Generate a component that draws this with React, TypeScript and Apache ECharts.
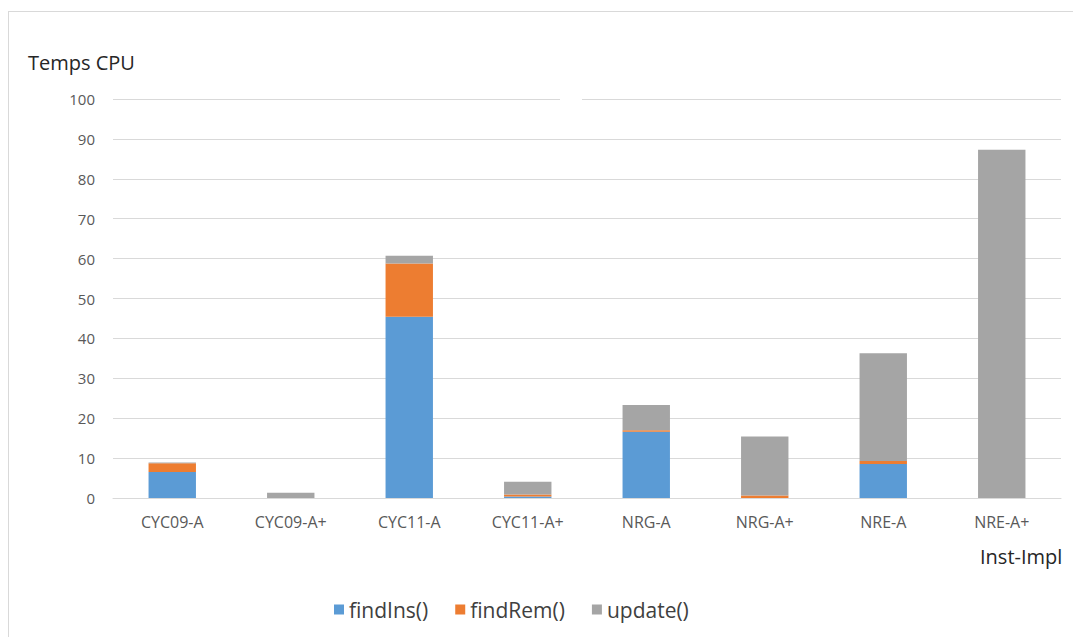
import React, { useEffect, useRef } from "react";
import * as echarts from "echarts";

const categories = ["CYC09-A", "CYC09-A+", "CYC11-A", "CYC11-A+", "NRG-A", "NRG-A+", "NRE-A", "NRE-A+"];
const findIns = [6.5, 0, 45.4, 0.4, 16.6, 0, 8.5, 0];
const findRem = [2.2, 0, 13.4, 0.5, 0.4, 0.6, 0.8, 0];
const update = [0.2, 1.3, 1.9, 3.2, 6.3, 14.8, 27.0, 87.3];
const seriesNames = ["findIns()", "findRem()", "update()"];
const colors = ["#5b9bd5", "#ed7d31", "#a5a5a5"];

const FONT = "'Open Sans', 'Noto Sans', sans-serif";

export default function App() {
  const ref = useRef<HTMLDivElement>(null);
  useEffect(() => {
    if (!ref.current) return;
    const chart = echarts.init(ref.current, null, { renderer: "svg" });
    const data = [findIns, findRem, update];
    chart.setOption({
      animation: false,
      backgroundColor: "#ffffff",
      color: colors,
      textStyle: { fontFamily: FONT },
      grid: { left: 113, right: 12, top: 99, bottom: 139, containLabel: false },
      legend: {
        data: seriesNames,
        top: 594,
        left: 329,
        icon: "rect",
        itemWidth: 10,
        itemHeight: 10,
        itemGap: 27,
        textStyle: { fontSize: 21, color: "#404040", fontFamily: FONT },
      },
      xAxis: {
        type: "category",
        data: categories,
        axisLine: { lineStyle: { color: "#d9d9d9", width: 1 } },
        axisTick: { show: false },
        axisLabel: { color: "#595959", fontSize: 16, margin: 16, fontFamily: FONT },
      },
      yAxis: {
        type: "value",
        min: 0,
        max: 100,
        interval: 10,
        axisLine: { show: false },
        axisTick: { show: false },
        axisLabel: { color: "#595959", fontSize: 15, margin: 18, fontFamily: FONT },
        splitLine: { lineStyle: { color: "#d9d9d9", width: 1 } },
      },
      series: seriesNames.map((name, i) => ({
        name,
        type: "bar",
        stack: "total",
        barWidth: "40%",
        data: data[i],
        itemStyle: { color: colors[i] },
      })),
      graphic: [
        { type: "line", shape: { x1: 8, y1: 11.5, x2: 1073, y2: 11.5 }, style: { stroke: "#d9d9d9", lineWidth: 1 } },
        { type: "line", shape: { x1: 8.5, y1: 11, x2: 8.5, y2: 637 }, style: { stroke: "#d9d9d9", lineWidth: 1 } },
        { type: "rect", shape: { x: 560, y: 96, width: 22, height: 6 }, style: { fill: "#ffffff" }, z: 100 },
        {
          type: "text",
          left: 28,
          top: 52,
          style: { text: "Temps CPU", fontSize: 20, fill: "#262626", fontFamily: FONT },
        },
        {
          type: "text",
          left: 980,
          top: 546,
          style: { text: "Inst-Impl", fontSize: 20, fill: "#262626", fontFamily: FONT },
        },
      ],
    });
    return () => chart.dispose();
  }, []);
  return <div ref={ref} style={{ position: "fixed", left: 0, top: 0, width: 1073, height: 637 }} />;
}
